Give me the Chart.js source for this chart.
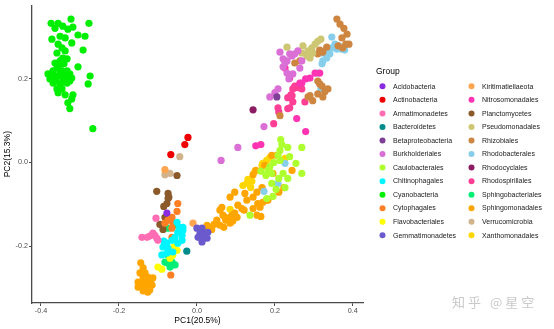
<!DOCTYPE html>
<html>
<head>
<meta charset="utf-8">
<script src="https://cdn.jsdelivr.net/npm/chart.js@4.4.1/dist/chart.umd.min.js"></script>
<style>
html,body{margin:0;padding:0;background:#fff;}
canvas{display:block;}
</style>
</head>
<body>
<canvas id="c" width="554" height="329"></canvas>
<script>
// ---- data (PC1, PC2) ----
const groups = ['Acidobacteria','Actinobacteria','Armatimonadetes','Bacteroidetes','Betaproteobacteria','Burkholderiales','Caulobacterales','Chitinophagales','Cyanobacteria','Cytophagales','Flavobacteriales','Gemmatimonadetes','Kiritimatiellaeota','Nitrosomonadales','Planctomycetes','Pseudomonadales','Rhizobiales','Rhodobacterales','Rhodocyclales','Rhodospirillales','Sphingobacteriales','Sphingomonadales','Verrucomicrobia','Xanthomonadales'];

const xTicks = [-0.4, -0.2, 0.0, 0.2, 0.4];
const yTicks = [-0.2, 0.0, 0.2];
const xTitle = 'PC1(20.5%)';
const yTitle = 'PC2(15.3%)';
const legendTitle = 'Group';
const watermark = '知乎 @星空';

const acidobacteria = [[-0.077,-0.121]];
const actinobacteria = [[-0.023,0.060],[-0.031,0.043],[-0.067,0.019]];
const armatimonadetes = [[-0.105,-0.133],[-0.141,-0.179],[-0.128,-0.179],[-0.121,-0.176],[-0.113,-0.169],[-0.103,-0.181],[-0.100,-0.186],[-0.108,-0.174]];
const bacteroidetes = [[-0.026,-0.212]];
const betaproteobacteria = [[0.205,0.157]];
const burkholderiales = [[0.213,0.264],[0.221,0.248],[0.231,0.243],[0.244,0.255],[0.251,0.260],[0.259,0.267],[0.269,0.243],[0.221,0.229],[0.231,0.214],[0.236,0.200],[0.246,0.212],[0.264,0.226],[0.208,0.176],[0.200,0.167],[0.187,0.157],[0.172,0.086],[0.105,0.036],[0.062,0.005],[0.238,0.260],[0.226,0.238]];
const caulobacterales = [[0.215,0.055],[0.218,0.043],[0.233,0.036],[0.269,0.036],[0.213,0.029],[0.208,0.017],[0.238,0.014],[0.254,-0.002],[0.197,0.000],[0.187,-0.010],[0.182,-0.019],[0.192,-0.026],[0.221,-0.026],[0.269,-0.026],[0.210,-0.038],[0.233,-0.038],[0.192,-0.050],[0.203,-0.064],[0.195,-0.081],[0.226,-0.060],[0.177,-0.031],[0.164,-0.021],[0.136,-0.126],[0.179,-0.086],[0.213,0.005]];
const chitinophagales = [[-0.051,-0.143],[-0.044,-0.155],[-0.036,-0.162],[-0.038,-0.174],[-0.049,-0.167],[-0.056,-0.179],[-0.064,-0.186],[-0.077,-0.193],[-0.085,-0.188],[-0.087,-0.202],[-0.074,-0.205],[-0.077,-0.217],[-0.038,-0.186],[-0.049,-0.193],[-0.062,-0.214],[-0.090,-0.221],[-0.036,-0.155]];
const cyanobacteria = [[-0.374,0.333],[-0.356,0.333],[-0.323,0.343],[-0.277,0.333],[-0.364,0.321],[-0.344,0.326],[-0.331,0.319],[-0.318,0.324],[-0.305,0.305],[-0.287,0.302],[-0.372,0.295],[-0.351,0.302],[-0.338,0.298],[-0.321,0.286],[-0.356,0.283],[-0.346,0.274],[-0.359,0.262],[-0.338,0.267],[-0.292,0.269],[-0.344,0.250],[-0.351,0.243],[-0.333,0.248],[-0.305,0.229],[-0.356,0.231],[-0.382,0.212],[-0.377,0.200],[-0.369,0.219],[-0.359,0.226],[-0.346,0.219],[-0.333,0.219],[-0.326,0.212],[-0.321,0.202],[-0.344,0.202],[-0.356,0.207],[-0.369,0.190],[-0.351,0.188],[-0.333,0.190],[-0.326,0.195],[-0.359,0.176],[-0.346,0.176],[-0.356,0.167],[-0.274,0.207],[-0.279,0.188],[-0.338,0.162],[-0.318,0.162],[-0.321,0.152],[-0.331,0.143],[-0.326,0.129],[-0.267,0.081],[-0.364,0.207],[-0.351,0.212],[-0.338,0.207],[-0.372,0.202],[-0.361,0.195],[-0.341,0.193],[-0.364,0.238],[-0.349,0.236],[-0.341,0.236]];
const cytophagales = [[-0.049,-0.098],[-0.051,-0.117],[-0.064,-0.131],[-0.062,-0.143],[-0.082,-0.145],[-0.064,-0.157],[-0.064,-0.179],[-0.067,-0.269],[-0.074,-0.138]];
const flavobacteriales = [[-0.059,-0.202],[-0.051,-0.210],[-0.064,-0.217],[-0.069,-0.229],[-0.100,-0.250],[-0.090,-0.255],[-0.062,-0.221]];
const gemmatimonadetes = [[0.000,-0.157],[0.013,-0.157],[0.008,-0.169],[0.021,-0.171],[0.028,-0.167],[0.015,-0.183],[0.003,-0.179],[0.026,-0.181],[0.013,-0.190]];
const kiritimatiellaeota = [[-0.082,-0.017],[-0.010,-0.145]];
const nitrosomonadales = [[0.226,0.226],[0.279,0.200],[0.290,0.202],[0.303,0.214],[0.315,0.214],[0.269,0.190],[0.264,0.190],[0.238,0.202],[0.151,0.040],[0.164,0.043],[0.256,0.105],[0.279,0.074]];
const planctomycetes = [[-0.051,-0.031],[-0.103,-0.069],[-0.074,-0.074],[-0.072,-0.083],[-0.074,-0.086],[-0.085,-0.105],[-0.082,-0.131],[-0.095,-0.148],[-0.087,-0.160],[-0.077,-0.098]];
const pseudomonadales = [[0.231,0.276],[0.272,0.279],[0.285,0.267],[0.282,0.255],[0.295,0.274],[0.303,0.283],[0.310,0.290],[0.318,0.295],[0.290,0.250],[0.297,0.262],[0.269,0.262]];
const rhizobiales = [[0.359,0.343],[0.367,0.331],[0.377,0.321],[0.385,0.307],[0.372,0.298],[0.382,0.283],[0.390,0.283],[0.374,0.274],[0.362,0.279],[0.333,0.276],[0.315,0.269],[0.323,0.264],[0.310,0.260],[0.251,0.238],[0.264,0.243],[0.310,0.195],[0.315,0.188],[0.321,0.183],[0.336,0.176],[0.328,0.169],[0.310,0.164],[0.290,0.160],[0.297,0.148],[0.285,0.157],[0.213,0.112],[0.323,0.157]];
const rhodobacterales = [[0.346,0.300],[0.354,0.283],[0.364,0.279],[0.372,0.271],[0.379,0.269],[0.359,0.271],[0.346,0.274],[0.336,0.271],[0.328,0.267],[0.321,0.262],[0.341,0.260],[0.333,0.250],[0.323,0.243],[0.321,0.236],[0.310,0.214],[0.318,0.176],[0.226,-0.002],[0.208,-0.050],[0.172,-0.069]];
const rhodocyclales = [[0.144,0.126]];
const rhodospirillales = [[0.251,0.183],[0.259,0.179],[0.246,0.176],[0.269,0.176],[0.241,0.162],[0.233,0.155],[0.246,0.145],[0.233,0.129],[0.208,0.131],[0.210,0.121],[0.197,0.093],[0.244,0.160],[0.277,0.145],[0.238,0.131]];
const sphingobacteriales = [[-0.074,-0.221],[-0.077,-0.240],[-0.064,-0.238],[-0.056,-0.245],[-0.069,-0.250],[-0.074,-0.157],[-0.056,-0.150],[-0.062,-0.245],[-0.082,-0.238]];
const sphingomonadales = [[0.192,0.017],[0.205,0.017],[0.174,-0.007],[0.195,-0.026],[0.244,-0.019],[0.223,-0.060],[0.210,-0.071],[0.151,-0.019],[0.144,-0.029],[0.097,-0.071],[0.085,-0.083],[0.128,-0.090],[0.144,-0.083],[0.156,-0.098],[0.169,-0.095],[0.182,-0.090],[0.162,-0.107],[0.144,-0.110],[0.121,-0.114],[0.105,-0.102],[0.097,-0.121],[0.085,-0.131],[0.103,-0.131],[0.064,-0.107],[0.059,-0.114],[0.067,-0.126],[0.051,-0.138],[0.074,-0.138],[0.085,-0.145],[0.092,-0.140],[0.044,-0.148],[0.033,-0.155],[0.021,-0.157],[0.038,-0.160],[0.026,-0.150],[0.059,-0.150],[0.154,-0.126],[0.164,-0.129],[0.069,-0.155],[0.167,-0.060],[0.154,-0.071],[0.123,-0.074],[0.179,-0.090],[0.115,-0.110],[0.090,-0.126],[0.072,-0.131],
  [-0.144,-0.240],[-0.138,-0.252],[-0.146,-0.264],[-0.133,-0.264],[-0.126,-0.274],[-0.138,-0.276],[-0.151,-0.286],[-0.141,-0.288],[-0.128,-0.286],[-0.118,-0.281],[-0.151,-0.298],[-0.138,-0.300],[-0.126,-0.298],[-0.115,-0.293],[-0.121,-0.305],[-0.138,-0.307],[-0.126,-0.310],[-0.113,-0.276],[-0.131,-0.293],[-0.133,-0.276],[-0.121,-0.288]];
const verrucomicrobia = [[-0.044,0.014],[-0.082,-0.029],[-0.069,-0.026]];
const xanthomonadales = [[0.226,0.010],[0.187,0.012],[0.179,0.005],[0.167,-0.007],[0.149,-0.021],[0.131,-0.040],[0.141,-0.045],[0.118,-0.055],[0.138,-0.060],[0.085,-0.112],[0.169,-0.002],[0.128,-0.050]];

const seriesData = [acidobacteria, actinobacteria, armatimonadetes, bacteroidetes, betaproteobacteria, burkholderiales, caulobacterales, chitinophagales, cyanobacteria, cytophagales, flavobacteriales, gemmatimonadetes, kiritimatiellaeota, nitrosomonadales, planctomycetes, pseudomonadales, rhizobiales, rhodobacterales, rhodocyclales, rhodospirillales, sphingobacteriales, sphingomonadales, verrucomicrobia, xanthomonadales];

// ---- styles ----
const palette = ['#8A2BE2','#EE0000','#FF6EB4','#008B8B','#7F3F98','#DA70D6','#ADFF2F','#00F5FF','#00EE00','#FF7F24','#FFFF00','#6A5ACD','#FFA54F','#FF34B3','#8B5A2B','#CDC673','#CD853F','#87CEEB','#8B1C62','#FF3E96','#00EE76','#FFA500','#D2B48C','#FFD700'];
const FONT = '"Liberation Sans", Arial, sans-serif';

const datasets = groups.map((g, i) => ({
  label: g,
  data: seriesData[i].map(p => ({x: p[0], y: p[1]})),
  backgroundColor: palette[i],
  borderColor: palette[i],
  borderWidth: 0,
  pointRadius: 3.6,
  pointHoverRadius: 3.6
}));

const overlay = {
  id: 'overlay',
  afterDraw(chart) {
    const ctx = chart.ctx;
    ctx.save();
    ctx.textBaseline = 'middle';
    ctx.textAlign = 'left';
    ctx.fillStyle = '#000';
    ctx.font = '8.5px ' + FONT;
    ctx.fillText(legendTitle, 376, 72);
    ctx.font = '7px ' + FONT;
    chart.data.datasets.forEach((ds, i) => {
      const col = i < 12 ? 0 : 1;
      const row = i % 12;
      const cx = col ? 471.5 : 382.5;
      const cy = 86.3 + row * 13.55;
      ctx.beginPath();
      ctx.arc(cx, cy, 3, 0, Math.PI * 2);
      ctx.fillStyle = ds.backgroundColor;
      ctx.fill();
      ctx.fillStyle = '#1a1a1a';
      ctx.fillText(ds.label, cx + 10.5, cy + 0.3);
    });
    ctx.font = '13px "Noto Sans CJK SC", sans-serif';
    ctx.fillStyle = '#c9c9c9';
    try { ctx.letterSpacing = '3px'; } catch (e) {}
    ctx.fillText(watermark, 452, 302);
    ctx.restore();
  }
};

const axisColor = '#4a4a4a';
new Chart(document.getElementById('c'), {
  type: 'scatter',
  data: { datasets },
  plugins: [overlay],
  options: {
    responsive: false,
    animation: false,
    events: [],
    layout: { padding: { left: 0, top: 4, right: 191, bottom: 0 } },
    plugins: { legend: { display: false }, tooltip: { enabled: false } },
    scales: {
      x: {
        type: 'linear', min: -0.423, max: 0.426,
        afterFit(s) { s.height = 26; },
        afterBuildTicks(s) { s.ticks = xTicks.map(v => ({ value: v })); },
        grid: { display: true, drawOnChartArea: false, drawTicks: true, tickLength: 3, color: axisColor, lineWidth: 1 },
        border: { display: true, color: axisColor, width: 1.3 },
        ticks: { padding: 1, color: '#4d4d4d', font: { family: FONT, size: 7.2 }, callback: v => Number(v).toFixed(1), maxRotation: 0 },
        title: { display: true, text: xTitle, color: '#000', font: { family: FONT, size: 8.5 }, padding: { top: 0, bottom: 3 } }
      },
      y: {
        type: 'linear', min: -0.336, max: 0.376,
        afterFit(s) { s.width = 32; },
        afterBuildTicks(s) { s.ticks = yTicks.map(v => ({ value: v })); },
        grid: { display: true, drawOnChartArea: false, drawTicks: true, tickLength: 3, color: axisColor, lineWidth: 1 },
        border: { display: true, color: axisColor, width: 1.3 },
        ticks: { padding: 1, color: '#4d4d4d', font: { family: FONT, size: 7.2 }, callback: v => Number(v).toFixed(1) },
        title: { display: true, text: yTitle, color: '#000', font: { family: FONT, size: 8.5 }, padding: { top: 3, bottom: 0 } }
      }
    }
  }
});
</script>
</body>
</html>
